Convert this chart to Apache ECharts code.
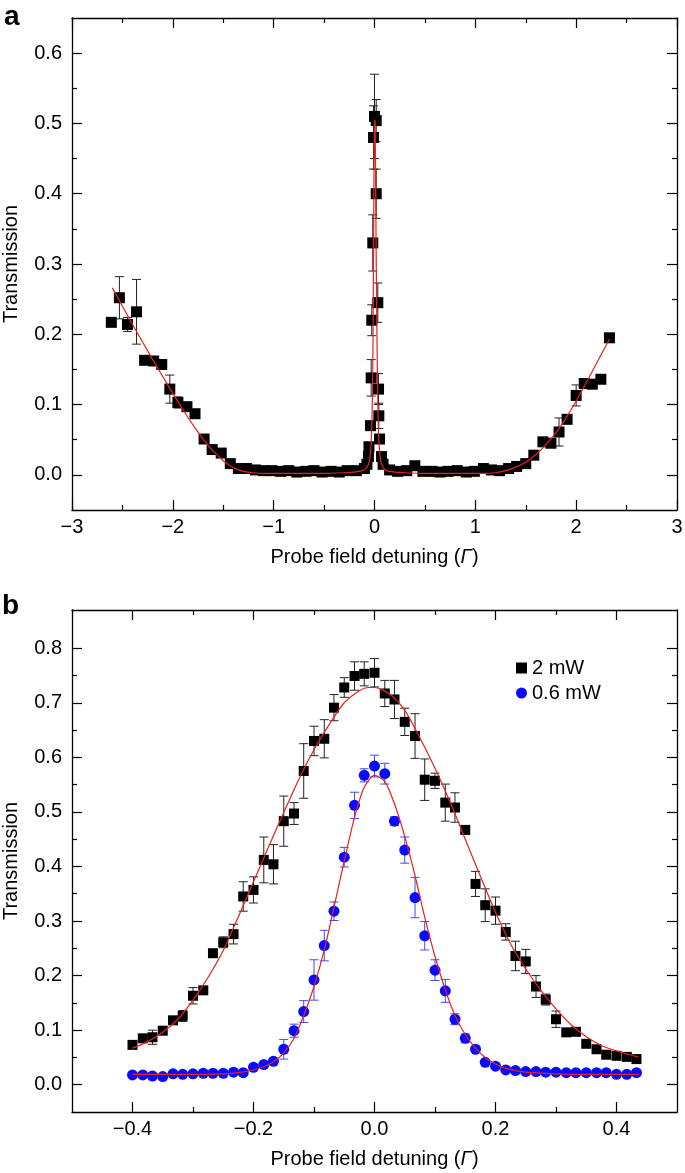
<!DOCTYPE html>
<html><head><meta charset="utf-8">
<script src="https://cdn.jsdelivr.net/npm/echarts@6/dist/echarts.min.js"></script>
<style>html,body{margin:0;padding:0;background:#fff}#c{width:685px;height:1173px}</style>
</head><body><div id="c"></div>
<script>
// ---------- Panel a data ----------
const aX = [
-2.61,-2.53,-2.45,-2.36,-2.28,-2.19,-2.11,-2.03,-1.95,-1.86,
-1.78,-1.69,-1.61,-1.52,-1.43,-1.35,-1.27,-1.18,-1.10,-1.02,
-0.93,-0.85,-0.77,-0.68,-0.60,-0.52,-0.43,-0.35,-0.27,-0.18,
-0.10,-0.075,-0.06,-0.055,-0.04,-0.033,-0.027,-0.017,-0.01,0.0,
0.017,0.017,0.033,0.04,0.043,0.05,0.07,0.085,0.15,0.23,
0.32,0.40,0.48,0.57,0.65,0.73,0.82,0.91,0.99,1.08,
1.16,1.24,1.33,1.41,1.50,1.58,1.67,1.75,1.83,1.91,
2.00,2.08,2.16,2.245,2.33];
const aY = [
0.217,0.252,0.214,0.232,0.163,0.162,0.157,0.122,0.103,0.097,
0.087,0.051,0.036,0.031,0.016,0.009,0.009,0.007,0.006,0.006,
0.005,0.006,0.004,0.005,0.006,0.004,0.005,0.004,0.006,0.006,
0.009,0.015,0.026,0.040,0.070,0.138,0.220,0.330,0.480,0.510,
0.504,0.400,0.245,0.122,0.084,0.051,0.026,0.015,0.007,0.005,
0.006,0.013,0.005,0.005,0.004,0.005,0.006,0.004,0.005,0.009,
0.007,0.006,0.009,0.012,0.016,0.028,0.047,0.045,0.061,0.079,
0.113,0.130,0.129,0.136,0.195];
const aErr = [
0.005,0.030,0.010,0.046,0.004,0.004,0.003,0.020,0.008,0,
0,0,0,0,0,0,0,0,0,0,
0,0,0,0,0,0,0,0,0,0,
0,0,0.003,0.005,0.006,0.026,0.022,0.040,0.045,0.060,
0.030,0.035,0.028,0.022,0.018,0.005,0.003,0,0,0,
0,0,0,0,0,0,0,0,0,0,
0,0,0,0,0,0,0,0,0.020,0,
0.015,0,0,0.004,0.006];
const aFitX = [-2.6,-2.5,-2.4,-2.3,-2.2,-2.1,-2.0,-1.9,-1.8,-1.7,-1.6,-1.5,-1.4,-1.3,-1.2,-1.1,-1.0,-0.8,-0.5,-0.3,-0.2,
-0.12,-0.08,-0.06,-0.045,-0.035,-0.025,-0.018,-0.012,-0.006,0,0.006,0.012,0.018,0.025,0.035,0.045,0.06,0.08,0.12,
0.2,0.3,0.5,0.8,1.0,1.1,1.2,1.3,1.4,1.5,1.6,1.7,1.8,1.9,2.0,2.1,2.2,2.3,2.33];
const aFitY = [0.266,0.240,0.214,0.189,0.164,0.140,0.116,0.093,0.071,0.051,0.034,0.020,0.010,0.005,0.003,0.002,0.002,0.002,0.002,0.003,0.004,
0.006,0.010,0.015,0.025,0.040,0.080,0.140,0.250,0.410,0.505,0.500,0.400,0.290,0.190,0.085,0.045,0.022,0.012,0.006,
0.004,0.003,0.002,0.002,0.002,0.002,0.003,0.006,0.011,0.018,0.029,0.043,0.060,0.081,0.105,0.131,0.158,0.185,0.193];
const aXTicks = [-3,-2,-1,0,1,2,3];
const aXMinor = [-2.5,-1.5,-0.5,0.5,1.5,2.5];
const aYTicks = [0,0.1,0.2,0.3,0.4,0.5,0.6];
const aYMinor = [0.05,0.15,0.25,0.35,0.45,0.55];

// ---------- Panel b data ----------
const bX = [
-0.400,-0.383,-0.367,-0.350,-0.333,-0.317,-0.300,-0.283,-0.267,-0.250,
-0.233,-0.217,-0.200,-0.183,-0.167,-0.150,-0.133,-0.117,-0.100,-0.083,
-0.067,-0.050,-0.033,-0.017,0.000,0.017,0.033,0.050,0.067,0.083,
0.100,0.117,0.133,0.150,0.167,0.183,0.200,0.217,0.233,0.250,
0.267,0.283,0.300,0.317,0.333,0.350,0.367,0.383,0.400,0.417,
0.433];
const b2Y = [
0.073,0.085,0.087,0.099,0.118,0.126,0.163,0.173,0.241,0.261,
0.276,0.345,0.357,0.412,0.404,0.483,0.497,0.575,0.630,0.634,
0.691,0.728,0.749,0.753,0.755,0.717,0.706,0.665,0.639,0.559,
0.557,0.517,0.508,0.467,0.368,0.329,0.319,0.280,0.236,0.226,
0.180,0.156,0.120,0.096,0.097,0.075,0.065,0.055,0.053,0.051,
0.047];
const b2Err = [
0.005,0.006,0.013,0.005,0.006,0.010,0.015,0.006,0.005,0.010,
0.018,0.027,0.024,0.042,0.036,0.046,0.020,0.050,0.027,0.035,
0.024,0.018,0.026,0.022,0.026,0.024,0.035,0.025,0.041,0.038,
0.014,0.034,0.027,0.005,0.023,0.030,0.025,0.015,0.027,0.022,
0.020,0.010,0.015,0.006,0.005,0.005,0.005,0.004,0.004,0.003,
0.003];
const b06Y = [
0.018,0.018,0.016,0.015,0.020,0.019,0.020,0.021,0.021,0.021,
0.023,0.022,0.032,0.037,0.043,0.065,0.099,0.134,0.192,0.255,
0.318,0.417,0.512,0.567,0.584,0.570,0.483,0.430,0.343,0.273,
0.210,0.172,0.120,0.085,0.065,0.041,0.034,0.027,0.026,0.024,
0.024,0.023,0.023,0.022,0.022,0.022,0.022,0.022,0.019,0.019,
0.022];
const b06Err = [
0,0,0,0,0,0,0,0,0,0,
0,0,0.003,0.004,0.004,0.018,0.012,0.020,0.037,0.028,
0.017,0.018,0.024,0.012,0.020,0.019,0.008,0.024,0.037,0.026,
0.019,0.021,0.010,0.008,0.004,0,0,0,0,0,
0,0,0,0,0,0,0,0,0,0,
0];
const b2FitX = [-0.4,-0.375,-0.35,-0.325,-0.3,-0.275,-0.25,-0.225,-0.2,-0.175,-0.15,-0.125,-0.1,-0.075,-0.05,-0.025,-0.01,0,
0.025,0.05,0.075,0.1,0.125,0.15,0.175,0.2,0.225,0.25,0.275,0.3,0.325,0.35,0.375,0.4,0.425,0.436];
const b2FitY = [0.067,0.079,0.096,0.120,0.155,0.197,0.246,0.308,0.372,0.436,0.499,0.560,0.614,0.660,0.700,0.722,0.728,0.728,
0.716,0.686,0.636,0.580,0.518,0.450,0.382,0.316,0.258,0.212,0.173,0.139,0.110,0.088,0.072,0.062,0.054,0.051];
const b06FitX = [-0.4,-0.3,-0.25,-0.225,-0.2,-0.183,-0.167,-0.15,-0.133,-0.117,-0.1,-0.083,-0.067,-0.05,-0.033,-0.017,0,
0.017,0.033,0.05,0.067,0.083,0.1,0.117,0.133,0.15,0.167,0.183,0.2,0.217,0.25,0.3,0.35,0.4,0.436];
const b06FitY = [0.019,0.019,0.020,0.022,0.027,0.033,0.042,0.058,0.085,0.127,0.180,0.247,0.325,0.410,0.490,0.545,0.567,
0.556,0.515,0.455,0.383,0.307,0.235,0.174,0.127,0.092,0.067,0.050,0.038,0.030,0.023,0.020,0.019,0.019,0.019];
const bXTicks = [-0.4,-0.2,0,0.2,0.4];
const bXMinor = [-0.3,-0.1,0.1,0.3];
const bYTicks = [0,0.1,0.2,0.3,0.4,0.5,0.6,0.7,0.8];
const bYMinor = [0.05,0.15,0.25,0.35,0.45,0.55,0.65,0.75];

// ---------- chart ----------
const FONT = '"Liberation Sans", Arial, Helvetica, sans-serif';
const fmt1 = v => v.toFixed(1).replace('-', '\u2212');
const fmt0 = v => String(Math.round(v)).replace('-', '\u2212');

function axes(dim, gridIndex, min, max, majors, minors, formatter, name, nameGap, labelMargin) {
  const pos = dim === 'x' ? ['bottom', 'top'] : ['left', 'right'];
  const base = {type: 'value', gridIndex, min, max, splitLine: {show: false}, scale: false};
  const out = [];
  pos.forEach((p, k) => {
    out.push(Object.assign({}, base, {
      position: p,
      axisLine: {show: true, onZero: false, lineStyle: {color: '#000', width: 1.3}},
      axisTick: {show: true, inside: true, length: 10, customValues: majors, lineStyle: {color: '#000', width: 1.2}},
      axisLabel: k === 0 ? {show: true, customValues: majors, formatter, margin: labelMargin, fontSize: 20, color: '#000', fontFamily: FONT}
                         : {show: false},
      name: k === 0 ? name : '',
      nameLocation: 'middle',
      nameGap: nameGap,
      nameTextStyle: {fontSize: 20, color: '#000', fontFamily: FONT,
        rich: {i: {fontSize: 20, fontStyle: 'italic', fontFamily: FONT, color: '#000'}}}
    }));
    out.push(Object.assign({}, base, {
      position: p,
      axisLine: {show: false, onZero: false},
      axisTick: {show: true, inside: true, length: 5, customValues: minors, lineStyle: {color: '#000', width: 1.2}},
      axisLabel: {show: false}
    }));
  });
  return out;
}

const xAxes = [].concat(
  axes('x', 0, -3, 3, aXTicks, aXMinor, fmt0, 'Probe field detuning ({i|\u0393})', 37, 7),
  axes('x', 1, -0.5, 0.5, bXTicks, bXMinor, fmt1, 'Probe field detuning ({i|\u0393})', 37, 7)
);
const yAxes = [].concat(
  axes('y', 0, -0.05, 0.65, aYTicks, aYMinor, fmt1, 'Transmission', 51, 10),
  axes('y', 1, -0.05, 0.87, bYTicks, bYMinor, fmt1, 'Transmission', 51, 10)
);

function errSeries(xs, ys, errs, axisIdx, color, capW) {
  const data = [];
  xs.forEach((x, i) => { if (errs[i] > 0) data.push([x, ys[i] - errs[i], ys[i] + errs[i]]); });
  return {
    type: 'custom', xAxisIndex: axisIdx, yAxisIndex: axisIdx, data, z: 1, silent: true,
    encode: {x: 0, y: [1, 2]},
    renderItem(params, api) {
      const x = api.value(0);
      const p1 = api.coord([x, api.value(1)]);
      const p2 = api.coord([x, api.value(2)]);
      const st = {stroke: color, lineWidth: 1, fill: null};
      return {type: 'group', children: [
        {type: 'line', shape: {x1: p1[0], y1: p1[1], x2: p2[0], y2: p2[1]}, style: st},
        {type: 'line', shape: {x1: p1[0] - capW / 2, y1: p1[1], x2: p1[0] + capW / 2, y2: p1[1]}, style: st},
        {type: 'line', shape: {x1: p2[0] - capW / 2, y1: p2[1], x2: p2[0] + capW / 2, y2: p2[1]}, style: st}
      ]};
    }
  };
}
const zip = (xs, ys) => xs.map((x, i) => [x, ys[i]]);
const RED = '#e8211c';

const option = {
  animation: false,
  backgroundColor: '#fff',
  grid: [
    {left: 72, top: 18, width: 605, height: 492, containLabel: false, outerBoundsMode: 'none'},
    {left: 72, top: 610, width: 605, height: 502, containLabel: false, outerBoundsMode: 'none'}
  ],
  xAxis: xAxes,
  yAxis: yAxes,
  legend: {
    data: [{name: '2 mW', icon: 'rect'}, {name: '0.6 mW', icon: 'circle'}],
    orient: 'vertical', left: 511, top: 653, itemWidth: 11, itemHeight: 11, itemGap: 5,
    textStyle: {fontSize: 20, color: '#000', fontFamily: FONT}
  },
  graphic: [
    {type: 'text', left: 4, top: 3, style: {text: 'a', font: 'bold 28px ' + FONT, fill: '#000'}},
    {type: 'text', left: 2, top: 592, style: {text: 'b', font: 'bold 28px ' + FONT, fill: '#000'}}
  ],
  series: [
    errSeries(aX, aY, aErr, 0, '#222', 9),
    {type: 'scatter', xAxisIndex: 0, yAxisIndex: 0, data: zip(aX, aY), symbol: 'rect', symbolSize: 11,
     itemStyle: {color: '#000', opacity: 1}, z: 2},
    {type: 'line', xAxisIndex: 0, yAxisIndex: 0, data: zip(aFitX, aFitY), showSymbol: false, symbol: 'none',
     smooth: 0.25, lineStyle: {color: RED, width: 1.2}, z: 3},

    errSeries(bX, b2Y, b2Err, 4, '#222', 9),
    errSeries(bX, b06Y, b06Err, 4, '#3d4ce8', 9),
    {name: '2 mW', type: 'scatter', xAxisIndex: 4, yAxisIndex: 4, data: zip(bX, b2Y), symbol: 'rect', symbolSize: 10,
     itemStyle: {color: '#000', opacity: 1}, z: 2},
    {name: '0.6 mW', type: 'scatter', xAxisIndex: 4, yAxisIndex: 4, data: zip(bX, b06Y), symbol: 'circle', symbolSize: 11,
     itemStyle: {color: '#0a0aff', opacity: 1}, z: 2},
    {type: 'line', xAxisIndex: 4, yAxisIndex: 4, data: zip(b2FitX, b2FitY), showSymbol: false, symbol: 'none',
     smooth: 0.25, lineStyle: {color: RED, width: 1.2}, z: 3},
    {type: 'line', xAxisIndex: 4, yAxisIndex: 4, data: zip(b06FitX, b06FitY), showSymbol: false, symbol: 'none',
     smooth: 0.25, lineStyle: {color: RED, width: 1.2}, z: 3}
  ]
};
const chart = echarts.init(document.getElementById('c'), null, {renderer: 'canvas'});
chart.setOption(option);
</script>
</body></html>
